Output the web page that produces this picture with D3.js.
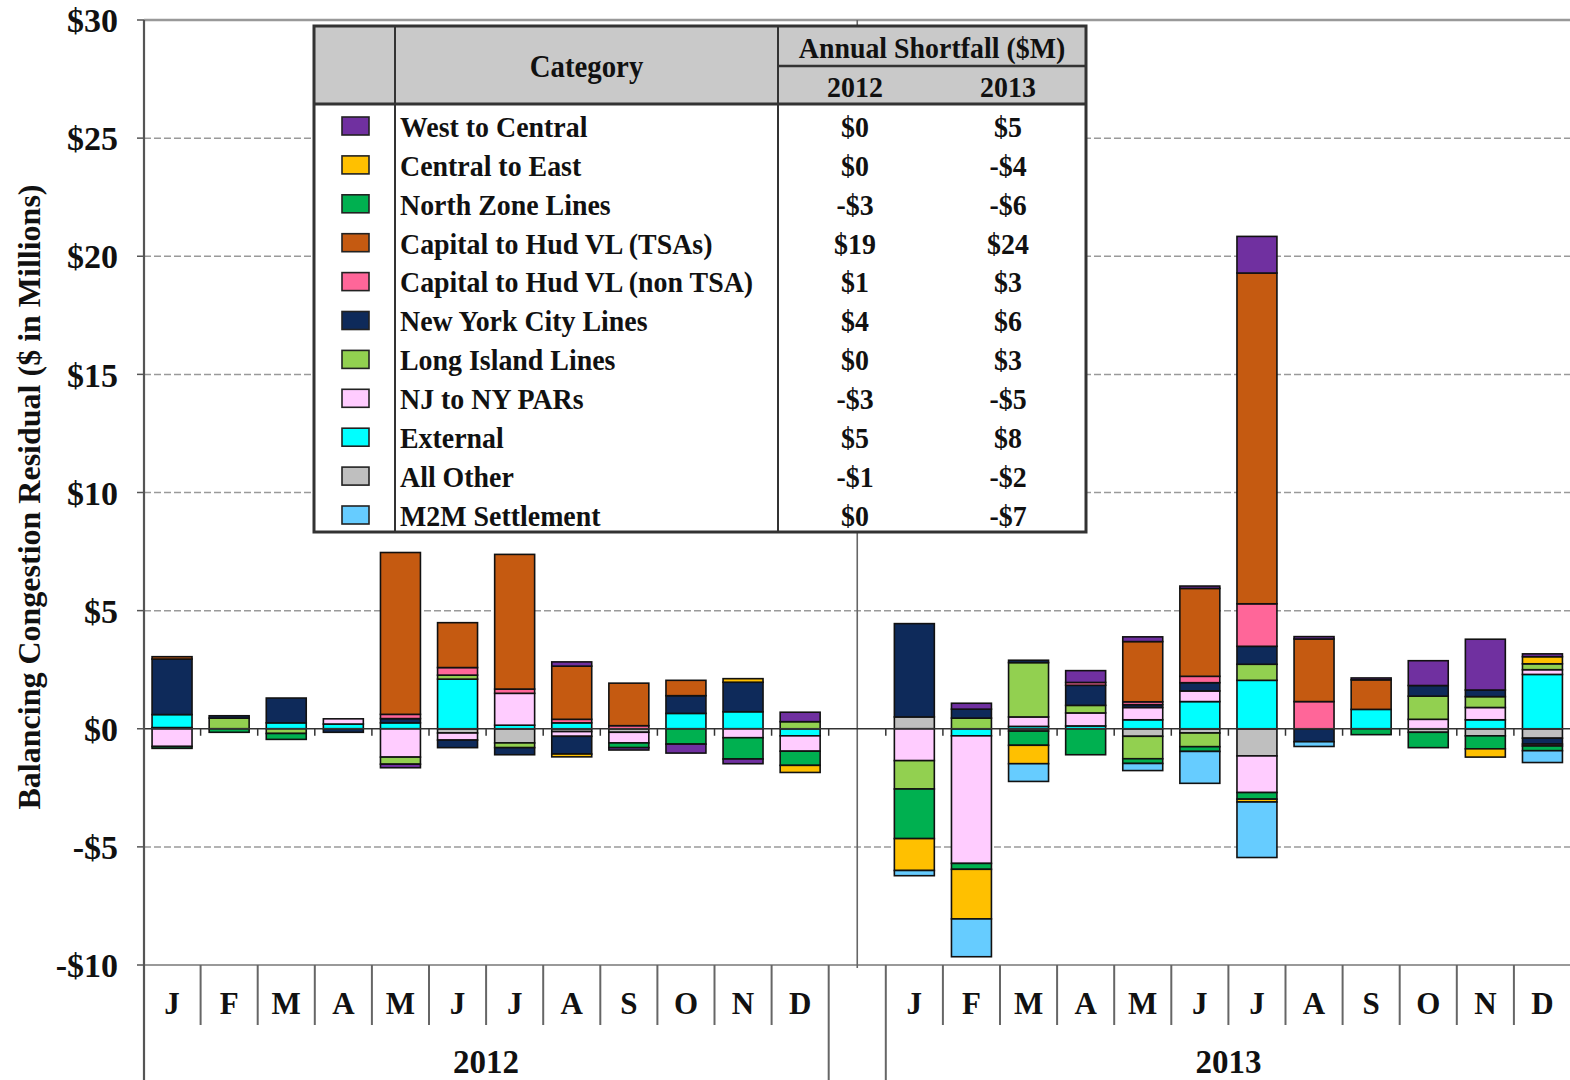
<!DOCTYPE html>
<html><head><meta charset="utf-8">
<script src="https://cdn.jsdelivr.net/npm/d3@7"></script>
<style>
body{margin:0;background:#fff}
svg{display:block}
text{font-family:"Liberation Serif","Times New Roman",serif;font-weight:bold;fill:#111}
</style>
</head><body>
<svg id="chart" width="1570" height="1080"></svg>
<script>
// ---------------- DATA ----------------
const months = ["J","F","M","A","M","J","J","A","S","O","N","D"];
const years = ["2012","2013"];
const yTicks = [-10,-5,0,5,10,15,20,25,30];

// monthly values, $M: 2012 Jan..Dec then 2013 Jan..Dec
const allOther    = [0.05,0,0,0,0,-0.18,-0.6,-0.12,-0.15,0,0,0, 0.5,0,-0.1,0,-0.32,-0.18,-1.15,0,0,-0.15,-0.3,-0.4];
const external    = [0.55,0,0.25,0.2,0.25,2.1,0.15,0.25,0,0.65,0.72,-0.3, 0,-0.3,0.1,0.12,0.38,1.15,2.05,0,0.82,0,0.38,2.3];
const njToNyPARs  = [-0.75,0,0,0.22,-1.2,-0.3,1.35,-0.2,-0.45,0,-0.38,-0.65, -1.35,-5.4,0.4,0.55,0.52,0.45,-1.55,0,0,0.4,0.52,0.2];
const longIsland  = [0,0.45,-0.2,0,-0.3,0.17,-0.2,0,0,0,0,0.3, -1.2,0.45,2.3,0.32,-0.95,-0.58,0.68,0,0,0.98,0.46,0.25];
const nycLines    = [2.35,0.1,1.05,-0.15,0.18,-0.32,-0.3,-0.75,0,0.75,1.25,0, 3.95,0.38,0.1,0.85,0.12,0.35,0.76,-0.55,0,0.45,0.28,-0.25];
const capHudNon   = [0,0,0,0,0.18,0.32,0.18,0.15,0.13,0,0,0, 0,0,0,0.12,0.12,0.27,1.8,1.15,0,0,0,-0.08];
const capHudTSA   = [0.1,0,0,0,6.85,1.9,5.7,2.25,1.8,0.65,0,0, 0,0,0,0,2.55,3.72,14.0,2.65,1.25,0,0,0];
const northZone   = [-0.08,-0.15,-0.25,0,0,0,0,0,-0.2,-0.65,-0.9,-0.6, -2.1,-0.25,-0.6,-1.1,-0.2,-0.2,-0.28,0,-0.25,-0.65,-0.55,-0.2];
const centralEast = [0,0,0,0,0,0,0,-0.12,0,0,0.15,-0.3, -1.35,-2.1,-0.78,0,0,0,-0.12,0,0,0,-0.35,0.3];
const westCentral = [0,0,0,0,-0.15,0,0,0.18,-0.1,-0.38,-0.2,0.4, 0,0.25,0,0.5,0.2,0.1,1.55,0.1,0.08,1.05,2.15,0.12];
const m2m         = [0,0,0,0,0,0,0,0,0,0,0,0, -0.22,-1.6,-0.75,0,-0.3,-1.35,-2.35,-0.2,0,0,0,-0.5];

// legend table (display order)
const seriesNames = ["West to Central","Central to East","North Zone Lines","Capital to Hud VL (TSAs)",
  "Capital to Hud VL (non TSA)","New York City Lines","Long Island Lines","NJ to NY PARs","External","All Other","M2M Settlement"];
const shortfall2012 = ["$0","$0","-$3","$19","$1","$4","$0","-$3","$5","-$1","$0"];
const shortfall2013 = ["$5","-$4","-$6","$24","$3","$6","$3","-$5","$8","-$2","-$7"];

const seriesValues = {
  "West to Central": westCentral, "Central to East": centralEast, "North Zone Lines": northZone,
  "Capital to Hud VL (TSAs)": capHudTSA, "Capital to Hud VL (non TSA)": capHudNon,
  "New York City Lines": nycLines, "Long Island Lines": longIsland, "NJ to NY PARs": njToNyPARs,
  "External": external, "All Other": allOther, "M2M Settlement": m2m
};
// stacking order outward from zero
const stackOrder = ["All Other","External","NJ to NY PARs","Long Island Lines","New York City Lines",
  "Capital to Hud VL (non TSA)","Capital to Hud VL (TSAs)","North Zone Lines","Central to East","West to Central","M2M Settlement"];

// ---------------- STYLE ----------------
const colors = {
  "West to Central":"#7030A0","Central to East":"#FFC000","North Zone Lines":"#00B050",
  "Capital to Hud VL (TSAs)":"#C55A11","Capital to Hud VL (non TSA)":"#FF6699",
  "New York City Lines":"#0E2A5A","Long Island Lines":"#92D050","NJ to NY PARs":"#FFCCFF",
  "External":"#00FFFF","All Other":"#BFBFBF","M2M Settlement":"#66CCFF"
};

// ---------------- BUILD ----------------
const ids = [];
years.forEach((yr, yi) => {
  months.forEach((m, mi) => ids.push(yr + "-" + mi));
  if (yi === 0) ids.push("gap");
});
const rows = [];
let k = 0;
years.forEach(yr => months.forEach((m, mi) => {
  const r = {id: yr + "-" + mi, month: m};
  stackOrder.forEach(s => r[s] = seriesValues[s][k]);
  rows.push(r); k++;
}));

const svg = d3.select("#chart");
const x = d3.scaleBand().domain(ids).range([143.5, 1571]).paddingInner(0.3).paddingOuter(0.15);
const step = x.step();
const left = id => x(id) - step * 0.15;
const y = d3.scaleLinear().domain([-10, 30]).range([965, 20]);

// gridlines
const grid = svg.append("g");
yTicks.filter(t => t !== 0 && t !== -10 && t !== 30).forEach(t => {
  grid.append("line").attr("x1", 144).attr("x2", 1570).attr("y1", y(t)).attr("y2", y(t))
    .attr("stroke", "#9a9a9a").attr("stroke-width", 1.5).attr("stroke-dasharray", "7,3");
});
grid.append("line").attr("x1", 144).attr("x2", 1570).attr("y1", y(30)).attr("y2", y(30))
  .attr("stroke", "#999").attr("stroke-width", 2.5);
grid.append("line").attr("x1", 144).attr("x2", 1570).attr("y1", y(-10)).attr("y2", y(-10))
  .attr("stroke", "#999").attr("stroke-width", 2);

// year divider in the middle of the gap
grid.append("line").attr("x1", x("gap") + x.bandwidth()/2).attr("x2", x("gap") + x.bandwidth()/2)
  .attr("y1", y(30)).attr("y2", y(-10) + 3).attr("stroke", "#666").attr("stroke-width", 1.6);

// stacked bars
const stack = d3.stack().keys(stackOrder).offset(d3.stackOffsetDiverging);
const series = stack(rows);
const bars = svg.append("g");
series.forEach(s => {
  bars.selectAll(null).data(s.filter(d => Math.abs(d[1] - d[0]) > 1e-9)).join("rect")
    .attr("x", d => x(d.data.id))
    .attr("width", x.bandwidth())
    .attr("y", d => y(Math.max(d[0], d[1])))
    .attr("height", d => Math.abs(y(d[0]) - y(d[1])))
    .attr("fill", colors[s.key])
    .attr("stroke", "#111").attr("stroke-width", 1.6);
});

// zero line with ticks
const axisG = svg.append("g");
axisG.append("line").attr("x1", 144).attr("x2", 1570).attr("y1", y(0)).attr("y2", y(0))
  .attr("stroke", "#333").attr("stroke-width", 1.6);
ids.forEach((id, i) => {
  if (i === 0) return;
  axisG.append("line").attr("x1", left(id)).attr("x2", left(id)).attr("y1", y(0)).attr("y2", y(0) + 7)
    .attr("stroke", "#333").attr("stroke-width", 1.5);
});

// left axis
axisG.append("line").attr("x1", 144).attr("x2", 144).attr("y1", y(30)).attr("y2", 1080)
  .attr("stroke", "#555").attr("stroke-width", 2.2);
yTicks.forEach(t => {
  axisG.append("line").attr("x1", 137).attr("x2", 144).attr("y1", y(t)).attr("y2", y(t))
    .attr("stroke", "#555").attr("stroke-width", 1.5);
  axisG.append("text").attr("x", 118).attr("y", y(t)).attr("dy", "0.36em")
    .attr("text-anchor", "end").attr("font-size", 34)
    .text((t < 0 ? "-$" : "$") + Math.abs(t));
});

// y title
svg.append("text").attr("transform", "translate(40,497) rotate(-90)")
  .attr("text-anchor", "middle").attr("font-size", 32)
  .text("Balancing Congestion Residual ($ in Millions)");

// category axis
const catG = svg.append("g");
rows.forEach((r, i) => {
  catG.append("text").attr("x", x(r.id) + x.bandwidth()/2).attr("y", 1003).attr("dy", "0.36em")
    .attr("text-anchor", "middle").attr("font-size", 31).text(r.month);
});
ids.forEach((id, i) => {
  if (i === 0 || id === "gap") return;
  const longLine = ids[i-1] === "gap";
  catG.append("line").attr("x1", left(id)).attr("x2", left(id)).attr("y1", y(-10))
    .attr("y2", longLine ? 1080 : 1025).attr("stroke", "#666").attr("stroke-width", 2);
});
// end of 2012 group
catG.append("line").attr("x1", left("gap")).attr("x2", left("gap")).attr("y1", y(-10)).attr("y2", 1080)
  .attr("stroke", "#666").attr("stroke-width", 2);
years.forEach(yr => {
  const a = left(yr + "-0"), b = left(yr + "-11") + step;
  catG.append("text").attr("x", (a + b)/2).attr("y", 1073)
    .attr("text-anchor", "middle").attr("font-size", 33).text(yr);
});

// legend table
const T = {x0: 314, x1: 1086, y0: 26, y1: 532, c1: 395, c2: 778, hMid: 66, hBot: 104, col12: 855, col13: 1008};
const tb = svg.append("g");
const tText = (tx, ty, str, anchor, size) => tb.append("text")
  .attr("transform", `translate(${tx},${ty}) scale(0.93,1)`)
  .attr("dy", "0.36em").attr("text-anchor", anchor).attr("font-size", size).text(str);
tb.append("rect").attr("x", T.x0).attr("y", T.y0).attr("width", T.x1 - T.x0).attr("height", T.y1 - T.y0)
  .attr("fill", "#fff");
tb.append("rect").attr("x", T.x0).attr("y", T.y0).attr("width", T.x1 - T.x0).attr("height", T.hBot - T.y0)
  .attr("fill", "#c9c9c9");
tb.append("line").attr("x1", T.c1).attr("x2", T.c1).attr("y1", T.y0).attr("y2", T.y1).attr("stroke", "#333").attr("stroke-width", 2);
tb.append("line").attr("x1", T.c2).attr("x2", T.c2).attr("y1", T.y0).attr("y2", T.y1).attr("stroke", "#333").attr("stroke-width", 2);
tb.append("line").attr("x1", T.c2).attr("x2", T.x1).attr("y1", T.hMid).attr("y2", T.hMid).attr("stroke", "#333").attr("stroke-width", 2.5);
tb.append("line").attr("x1", T.x0).attr("x2", T.x1).attr("y1", T.hBot).attr("y2", T.hBot).attr("stroke", "#333").attr("stroke-width", 3);
tb.append("rect").attr("x", T.x0).attr("y", T.y0).attr("width", T.x1 - T.x0).attr("height", T.y1 - T.y0)
  .attr("fill", "none").attr("stroke", "#333").attr("stroke-width", 3);
tText((T.c1 + T.c2)/2, (T.y0 + T.hBot)/2 + 1, "Category", "middle", 31);
tText((T.c2 + T.x1)/2, 47, "Annual Shortfall ($M)", "middle", 30);
tText(T.col12, 86, years[0], "middle", 30);
tText(T.col13, 86, years[1], "middle", 30);
const rowY = d3.scaleLinear().domain([0, seriesNames.length - 1]).range([126, 515]);
seriesNames.forEach((name, i) => {
  const cy = rowY(i);
  tb.append("rect").attr("x", 342).attr("y", cy - 9).attr("width", 27).attr("height", 18)
    .attr("fill", colors[name]).attr("stroke", "#222").attr("stroke-width", 1.6);
  tText(400, cy, name, "start", 30);
  tText(T.col12, cy, shortfall2012[i], "middle", 30);
  tText(T.col13, cy, shortfall2013[i], "middle", 30);
});
</script>
</body></html>
